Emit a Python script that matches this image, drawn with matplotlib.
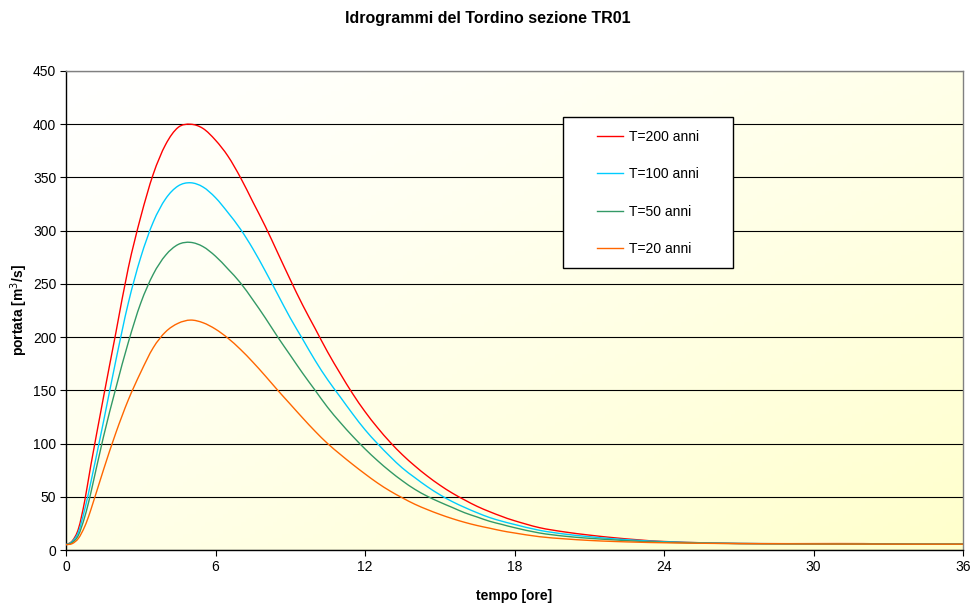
import numpy as np
import matplotlib
matplotlib.use("Agg")
import matplotlib.pyplot as plt
from matplotlib.patches import Rectangle, PathPatch
from matplotlib.path import Path
from matplotlib.lines import Line2D

plt.rcParams['font.family'] = ['Liberation Sans', 'DejaVu Sans']

# tempo [ore]
tempo = [0, 0.25, 0.5, 0.75, 1.0, 1.5, 2.0, 2.5, 3.0, 3.5, 4.0, 4.5, 5.0, 5.5,
         6.0, 6.5, 7.0, 7.5, 8.0, 8.5, 9.0, 9.5, 10.0, 10.5, 11.0, 11.5, 12.0,
         12.5, 13.0, 13.5, 14.0, 14.5, 15.0, 15.5, 16.0, 16.5, 17.0, 17.5, 18.0,
         19.0, 20.0, 21.0, 22.0, 23.0, 24.0, 26.0, 28.0, 30.0, 32.0, 34.0, 36.0]

# portate [m3/s] per tempo di ritorno
q200 = [5, 8.5, 20, 46, 80, 143, 204, 265, 313, 353, 381, 397, 400, 396,
        385, 370, 350, 327, 304, 279, 254, 230, 208, 186, 166, 147, 130,
        115, 101.5, 89.5, 79, 69.5, 61, 53.5, 47, 41, 36, 31.5, 27.5,
        21, 17, 14, 11.5, 9.5, 8, 6.5, 6, 6, 6, 5.5, 5.5]
q100 = [5, 8, 17, 38, 64, 120, 178, 232, 275, 308, 330, 342, 345, 341,
        331, 317, 301.5, 283, 262, 240, 218, 198, 178, 160, 144, 128, 113,
        100, 88, 77, 68, 59.5, 52, 45.5, 40, 35, 30.5, 27, 24,
        18.5, 15, 12.5, 10.5, 9, 7.8, 6.5, 6, 5.8, 5.7, 5.5, 5.5]
q50 = [5, 7, 14, 31, 54, 106, 152, 195, 232, 259, 277, 287, 289, 285,
       276, 264, 251, 235, 218, 200, 183, 166, 150, 134, 120, 107, 95,
       84, 74, 65, 57, 50.5, 45, 40, 35, 31, 27, 24, 21,
       16, 13, 11, 9.5, 8.2, 7.3, 6.3, 5.9, 5.7, 5.6, 5.5, 5.5]
q20 = [5, 6, 11, 22, 38, 75, 110, 141, 167, 190, 205, 213, 216, 213.5,
       207.5, 199, 188.5, 176.5, 163.5, 150, 137, 124, 111.5, 100, 90, 80.5, 71.5,
       63, 55.5, 49, 43, 38, 33.5, 29.5, 26, 23, 20.5, 18, 16,
       12.5, 10.5, 9, 8, 7.3, 6.8, 6.2, 5.9, 5.7, 5.6, 5.5, 5.5]

serie = [("T=200 anni", q200, "#FF0000"),
         ("T=100 anni", q100, "#00CCFF"),
         ("T=50 anni", q50, "#339966"),
         ("T=20 anni", q20, "#FF6600")]


def linea_smussata(x, y):
    """Path a curve di Bezier che passa per i punti (linea smussata)."""
    p = np.column_stack([x, y]).astype(float)
    verts = [p[0]]
    codes = [Path.MOVETO]
    n = len(p)
    for i in range(n - 1):
        p0 = p[i - 1] if i > 0 else p[i]
        p1, p2 = p[i], p[i + 1]
        p3 = p[i + 2] if i + 2 < n else p[i + 1]
        c1 = p1 + (p2 - p0) / 6.0
        c2 = p2 - (p3 - p1) / 6.0
        verts += [c1, c2, p2]
        codes += [Path.CURVE4] * 3
    return Path(verts, codes)


fig = plt.figure(figsize=(9.71, 6.06), dpi=100)
ax = fig.add_axes([66/971, 1-550/606, (963-66)/971, (550-71)/606])

# sfondo sfumato bianco -> giallo chiaro
nx, ny = 200, 120
u = np.linspace(0, 1, nx)[None, :]
v = np.linspace(0, 1, ny)[:, None]
g = np.clip((u + v) / 2, 0, 1) ** 1.2
bianco = np.array([1.0, 1.0, 1.0])
giallo = np.array([1.0, 1.0, 0.80])
img = bianco[None, None, :] * (1 - g[..., None]) + giallo[None, None, :] * g[..., None]
ax.imshow(img, extent=[0, 36, 0, 450], aspect='auto', origin='upper', zorder=0)

handles = []
for nome, q, col in serie:
    patch = PathPatch(linea_smussata(tempo, q), facecolor='none', edgecolor=col,
                      lw=1.0, zorder=3)
    ax.add_patch(patch)
    handles.append(Line2D([], [], color=col, lw=1.0, label=nome))

ax.set_xlim(0, 36)
ax.set_ylim(0, 450)
ax.set_xticks(range(0, 37, 6))
ax.set_yticks(range(0, 451, 50))
ax.yaxis.grid(True, color='black', lw=0.8, zorder=1)
ax.set_axisbelow(True)
ax.tick_params(direction='out', length=4, width=0.8, labelsize=10, pad=3)

for s in ['left', 'bottom']:
    ax.spines[s].set_color('black')
    ax.spines[s].set_linewidth(1.0)
for s in ['right', 'top']:
    ax.spines[s].set_color('#808080')
    ax.spines[s].set_linewidth(1.0)

ax.set_xlabel("tempo [ore]", fontsize=10, fontweight='bold', va='center')
ax.set_ylabel("portata [m$^3$/s]", fontsize=10, fontweight='bold', va='center')
ax.xaxis.set_label_coords(0.5, (550-596)/479)
ax.yaxis.set_label_coords((19-66)/897, (550-310)/479)

fig.text(488/971, 1-18/606, "Idrogrammi del Tordino sezione TR01",
         ha='center', va='center', fontsize=11.5, fontweight='bold')

# riquadro legenda
box = Rectangle((563/971, 1-268/606), (733-563)/971, (268-117)/606,
                transform=fig.transFigure, facecolor='white', edgecolor='black',
                lw=1.0, zorder=4)
ax.add_patch(box)
box.set_clip_on(False)

leg = ax.legend(handles=handles, loc='upper left',
                bbox_to_anchor=(590/971, 1-123/606),
                bbox_transform=fig.transFigure, frameon=False, fontsize=10,
                borderpad=0, handlelength=1.9, handletextpad=0.38,
                labelspacing=1.68)
leg.set_zorder(5)

fig.savefig("out.png", dpi=100)
